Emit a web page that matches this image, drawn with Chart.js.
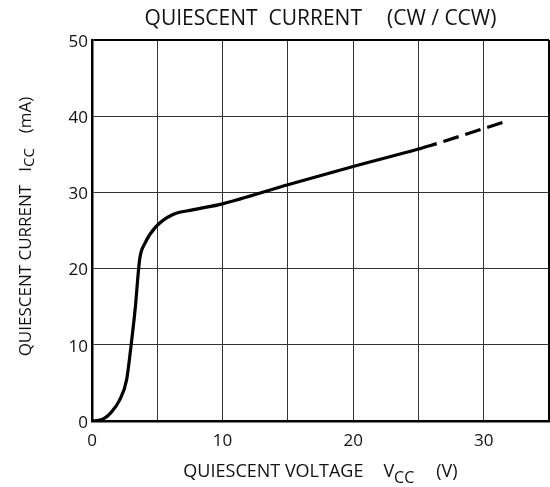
<!DOCTYPE html>
<html>
<head>
<meta charset="utf-8">
<script src="https://cdn.jsdelivr.net/npm/chart.js@4"></script>
<style>
  html, body { margin: 0; padding: 0; background: #fff; }
  #wrap { width: 550px; height: 487px; }
</style>
</head>
<body>
<div id="wrap"><canvas id="iccChart" width="550" height="487"></canvas></div>
<script>
// Quiescent current vs. supply voltage (CW / CCW)

// measured part of the curve (solid)
const solidVcc = [0, 0.5, 0.9, 1.4, 2.1, 2.65, 2.95, 3.3, 3.65, 4.05, 4.9, 6.2, 7.7, 10, 15, 20, 25, 26.4];
const solidIcc = [0, 0.1, 0.3, 1.0, 2.7, 5.4, 9.3, 14.6, 21.2, 23.3, 25.5, 27.1, 27.7, 28.5, 31.0, 33.4, 35.7, 36.4];
// extrapolated part (dashed)
const dashVcc = [26.4, 31.5];
const dashIcc = [36.4, 39.2];

const xTicks = [0, 10, 20, 30];
const yTicks = [0, 10, 20, 30, 40, 50];

const FONT = '"Open Sans", "DejaVu Sans", sans-serif';
const INK = '#111';

const toPoints = (xs, ys) => xs.map((x, i) => ({ x, y: ys[i] }));

// draws a row of text pieces centred on (cx, 0); a piece may be lowered (subscript)
function drawRun(ctx, parts, cx) {
  const widths = parts.map(p => {
    if (p.gap) return p.gap;
    ctx.font = `${p.size}px ${FONT}`;
    return ctx.measureText(p.t).width;
  });
  let x = cx - widths.reduce((a, b) => a + b, 0) / 2;
  parts.forEach((p, i) => {
    if (!p.gap) {
      ctx.font = `${p.size}px ${FONT}`;
      ctx.fillText(p.t, x, p.dy || 0);
    }
    x += widths[i];
  });
}

const axisText = {
  id: 'axisText',
  afterDraw(chart) {
    const { ctx, chartArea: a } = chart;
    const cx = (a.left + a.right) / 2;
    const cy = (a.top + a.bottom) / 2;
    ctx.save();
    ctx.fillStyle = INK;
    ctx.textBaseline = 'alphabetic';
    ctx.textAlign = 'left';

    // chart title
    ctx.save();
    ctx.translate(0, 25);
    drawRun(ctx, [
      { t: 'QUIESCENT  CURRENT', size: 21 }, { gap: 25 }, { t: '(CW / CCW)', size: 21 }
    ], cx);
    ctx.restore();

    // x axis title
    ctx.save();
    ctx.translate(0, 477);
    drawRun(ctx, [
      { t: 'QUIESCENT VOLTAGE', size: 18 }, { gap: 20 },
      { t: 'V', size: 18 }, { t: 'CC', size: 16, dy: 6 }, { gap: 22 },
      { t: '(V)', size: 18 }
    ], cx);
    ctx.restore();

    // y axis title (rotated)
    ctx.save();
    ctx.translate(31, cy - 4);
    ctx.rotate(-Math.PI / 2);
    drawRun(ctx, [
      { t: 'QUIESCENT CURRENT', size: 17 }, { gap: 13 },
      { t: 'I', size: 17 }, { t: 'CC', size: 15, dy: 3 }, { gap: 15 },
      { t: '(mA)', size: 17 }
    ], 0);
    ctx.restore();

    ctx.restore();
  }
};

const edge = (max) => (c) => (c.tick && c.tick.value === max ? 2 : 1);
const edgeColor = (max) => (c) => (c.tick && c.tick.value === max ? '#000' : '#333');

new Chart(document.getElementById('iccChart'), {
  type: 'line',
  data: {
    datasets: [
      {
        data: toPoints(solidVcc, solidIcc),
        borderColor: '#000', borderWidth: 3.2,
        pointRadius: 0, cubicInterpolationMode: 'monotone', fill: false
      },
      {
        data: toPoints(dashVcc, dashIcc),
        borderColor: '#000', borderWidth: 3.2,
        borderDash: [16, 7], borderDashOffset: 16,
        pointRadius: 0, fill: false
      }
    ]
  },
  options: {
    responsive: false, animation: false, devicePixelRatio: 1,
    layout: { padding: { top: 40, right: 1, left: 0, bottom: 0 } },
    plugins: { legend: { display: false }, tooltip: { enabled: false }, title: { display: false } },
    scales: {
      x: {
        type: 'linear', min: 0, max: 35,
        afterFit: s => { s.height = 66; s.paddingLeft = 0; s.paddingRight = 0; },
        ticks: {
          stepSize: 5, padding: 10, maxRotation: 0, autoSkip: false,
          color: INK, font: { family: FONT, size: 17 },
          callback: v => (xTicks.includes(v) ? String(v) : '')
        },
        grid: { drawTicks: false, color: edgeColor(35), lineWidth: edge(35) },
        border: { color: '#000', width: 2.5 }
      },
      y: {
        min: 0, max: 50,
        afterFit: s => { s.width = 92; s.paddingTop = 0; s.paddingBottom = 0; },
        ticks: {
          stepSize: 10, padding: 4, labelOffset: 2,
          color: INK, font: { family: FONT, size: 17 },
          callback: v => (yTicks.includes(v) ? String(v) : '')
        },
        grid: { drawTicks: false, color: edgeColor(50), lineWidth: edge(50) },
        border: { color: '#000', width: 2.5 }
      }
    }
  },
  plugins: [axisText]
});
</script>
</body>
</html>
